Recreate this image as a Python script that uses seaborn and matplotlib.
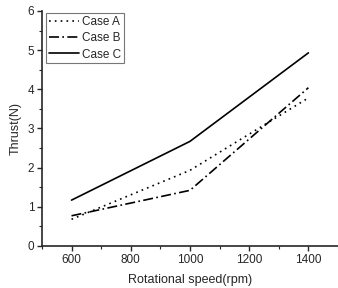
import matplotlib
matplotlib.use("Agg")
import matplotlib.pyplot as plt
import seaborn as sns
import pandas as pd
from matplotlib.ticker import MultipleLocator

speed = [600, 1000, 1400]
case_a = [0.68, 1.93, 3.78]
case_b = [0.77, 1.42, 4.04]
case_c = [1.17, 2.67, 4.93]

df = pd.DataFrame({
    "speed": speed * 3,
    "thrust": case_a + case_b + case_c,
    "case": ["Case A"] * 3 + ["Case B"] * 3 + ["Case C"] * 3,
})

sns.set_style("ticks")
plt.rcParams["font.family"] = ["Liberation Sans", "DejaVu Sans"]

fig = plt.figure(figsize=(3.38, 2.88), dpi=100)
ax = fig.add_axes([0.124, 0.146, 0.876, 0.816])

styles = {"Case A": (0, (1, 2.5)), "Case B": (0, (6, 2, 1, 2)), "Case C": "-"}
for name, ls in styles.items():
    sub = df[df["case"] == name]
    sns.lineplot(data=sub, x="speed", y="thrust", ax=ax, color="black",
                 linestyle=ls, linewidth=1.2, label=name)

ax.set_xlim(500, 1500)
ax.set_ylim(0, 6)
ax.xaxis.set_major_locator(MultipleLocator(200))
ax.xaxis.set_minor_locator(MultipleLocator(100))
ax.yaxis.set_major_locator(MultipleLocator(1))
ax.yaxis.set_minor_locator(MultipleLocator(0.5))
ax.tick_params(which="major", length=3.5, width=1, labelsize=8.5, pad=2)
ax.tick_params(which="minor", length=2, width=0.8)
ax.set_xlabel("Rotational speed(rpm)", fontsize=9, labelpad=6)
ax.set_ylabel("Thrust(N)", fontsize=9, labelpad=4)
sns.despine(ax=ax)
for sp in ["left", "bottom"]:
    ax.spines[sp].set_linewidth(1.2)

leg = ax.legend(loc="upper left", fontsize=8.5, frameon=True, fancybox=False,
                edgecolor="#555555", handlelength=2.6, handletextpad=0.2,
                borderpad=0.25, labelspacing=0.35, borderaxespad=0.2,
                bbox_to_anchor=(0.005, 1.0))
leg.get_frame().set_linewidth(0.8)

fig.savefig("out.png", dpi=100)
